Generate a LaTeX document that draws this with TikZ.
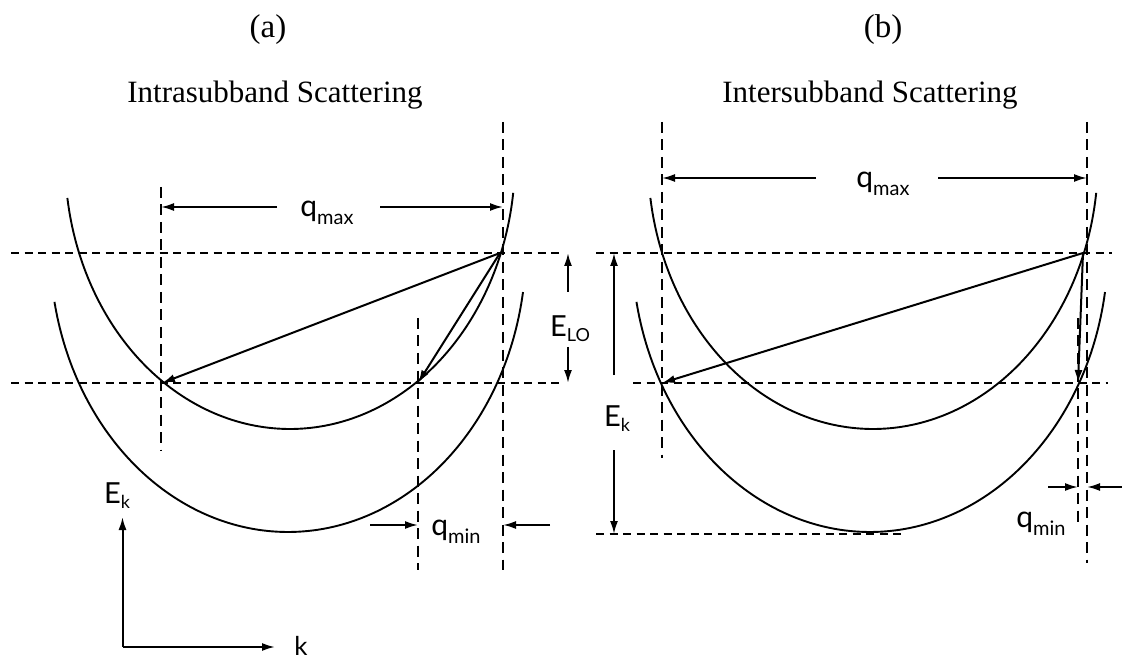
\documentclass[tikz,border=0pt]{standalone}
\usepackage{fontspec}
\setmainfont{Liberation Serif}
\newfontfamily\labfont{Lato}
\usetikzlibrary{arrows.meta}
\newcommand\qlab[1]{{\labfont\fontsize{30}{30}\selectfont q\raisebox{-8pt}{\fontsize{20}{20}\selectfont #1}}}
\newcommand\elab[1]{{\labfont\fontsize{29}{29}\selectfont E\raisebox{-5pt}{\fontsize{18}{18}\selectfont #1}}}
\tikzset{
  hdash/.style={line width=2.1pt, dash pattern=on 8pt off 5.5pt},
  vdash/.style={line width=2.1pt, dash pattern=on 11pt off 6.5pt},
  band/.style={line width=1.9pt},
  arr/.style={line width=2pt, -{Latex[length=13pt,width=8pt]}},
  lab/.style={inner sep=0pt, anchor=base},
  ttl/.style={inner sep=0pt, anchor=base, font=\fontsize{31}{31}\selectfont},
}
\begin{document}
\begin{tikzpicture}[x=1pt,y=-1pt]
\useasboundingbox (0,0) rectangle (1122,660);

% ---------- titles ----------
\node[ttl, font=\fontsize{33}{33}\selectfont] (ta) at (268,38) {(a)};
\node[ttl, font=\fontsize{33}{33}\selectfont] (tb) at (883,38) {(b)};
\node[ttl] (sa) at (275,103) {Intrasubband Scattering};
\node[ttl] (sb) at (870,103) {Intersubband Scattering};

% ---------- panel (a) ----------
\draw[hdash] (11,253) -- (560,253);
\draw[hdash] (11,383) -- (560,383);
\draw[vdash] (161,187) -- (161,450);
\draw[vdash] (503,122) -- (503,570);
\draw[vdash] (418,318) -- (418,570);

% subbands (elliptic arcs)
\draw[band] plot[domain=7.2:171.7, samples=150, variable=\t] ({290+225*cos(\t)}, {159+270*sin(\t)});
\draw[band] plot[domain=9.1:168.9, samples=150, variable=\t] ({288+238*cos(\t)}, {247+285*sin(\t)});

\coordinate (a0) at (500,253);
\coordinate (a1) at (162,383);
\coordinate (a2) at (418,383);
\draw[arr] (a0) -- (a1);
\draw[arr] (a0) -- (a2);

\node[lab] (qmaxa) at (327,217) {\qlab{max}};
\coordinate (qa-l0) at (277,207);
\coordinate (qa-l1) at (161,207);
\coordinate (qa-r0) at (380,207);
\coordinate (qa-r1) at (503,207);
\draw[arr] (qa-l0) -- (qa-l1);
\draw[arr] (qa-r0) -- (qa-r1);

\node[lab] (qmina) at (456,535) {\qlab{min}};
\coordinate (qmina-l0) at (370,525);
\coordinate (qmina-l1) at (418,525);
\coordinate (qmina-r0) at (550,525);
\coordinate (qmina-r1) at (503,525);
\draw[arr] (qmina-l0) -- (qmina-l1);
\draw[arr] (qmina-r0) -- (qmina-r1);

% axes
\coordinate (o) at (122.5,647);
\coordinate (ey) at (122.5,517);
\coordinate (kx) at (275,647);
\draw[arr] (o) -- (ey);
\draw[arr] (o) -- (kx);
\node[lab] (eka) at (117,503) {\elab{k}};
\node[lab, font=\labfont\fontsize{26}{26}\selectfont] (kl) at (301,655) {k};

% ---------- panel (b) ----------
\draw[hdash] (596,253) -- (1112,253);
\draw[hdash] (633,383) -- (1108,383);
\draw[hdash] (596,534) -- (904,534);
\draw[vdash] (662,122) -- (662,458);
\draw[vdash] (1087,122) -- (1087,563);
\draw[vdash] (1078,318) -- (1078,523);

\draw[band] plot[domain=7.2:171.7, samples=150, variable=\t] ({873+225*cos(\t)}, {159+270*sin(\t)});
\draw[band] plot[domain=9.1:168.9, samples=150, variable=\t] ({870+238*cos(\t)}, {247+285*sin(\t)});

\coordinate (b0) at (1083,253);
\coordinate (b1) at (662,383);
\coordinate (b2) at (1078,383);
\draw[arr] (b0) -- (b1);
\draw[arr] (b0) -- (b2);

\node[lab] (qmaxb) at (883,188) {\qlab{max}};
\coordinate (qb-l0) at (816,178);
\coordinate (qb-l1) at (662,178);
\coordinate (qb-r0) at (938,178);
\coordinate (qb-r1) at (1087,178);
\draw[arr] (qb-l0) -- (qb-l1);
\draw[arr] (qb-r0) -- (qb-r1);

\node[lab] (qminb) at (1041,527) {\qlab{min}};
\coordinate (qmb-l0) at (1048,487);
\coordinate (qmb-l1) at (1078,487);
\coordinate (qmb-r0) at (1122,487);
\coordinate (qmb-r1) at (1087,487);
\draw[arr] (qmb-l0) -- (qmb-l1);
\draw[arr] (qmb-r0) -- (qmb-r1);

% energy arrows
\node[lab] (elo) at (570,337) {\elab{LO}};
\coordinate (elo-t) at (568,253);
\coordinate (elo-b) at (568,383);
\coordinate (elo-s1) at (568,292);
\coordinate (elo-s2) at (568,347);
\draw[arr] (elo-s1) -- (elo-t);
\draw[arr] (elo-s2) -- (elo-b);

\node[lab] (ekb) at (617,426) {\elab{k}};
\coordinate (ekb-t) at (614,253);
\coordinate (ekb-b) at (614,534);
\coordinate (ekb-s1) at (614,375);
\coordinate (ekb-s2) at (614,450);
\draw[arr] (ekb-s1) -- (ekb-t);
\draw[arr] (ekb-s2) -- (ekb-b);
\end{tikzpicture}
\end{document}
